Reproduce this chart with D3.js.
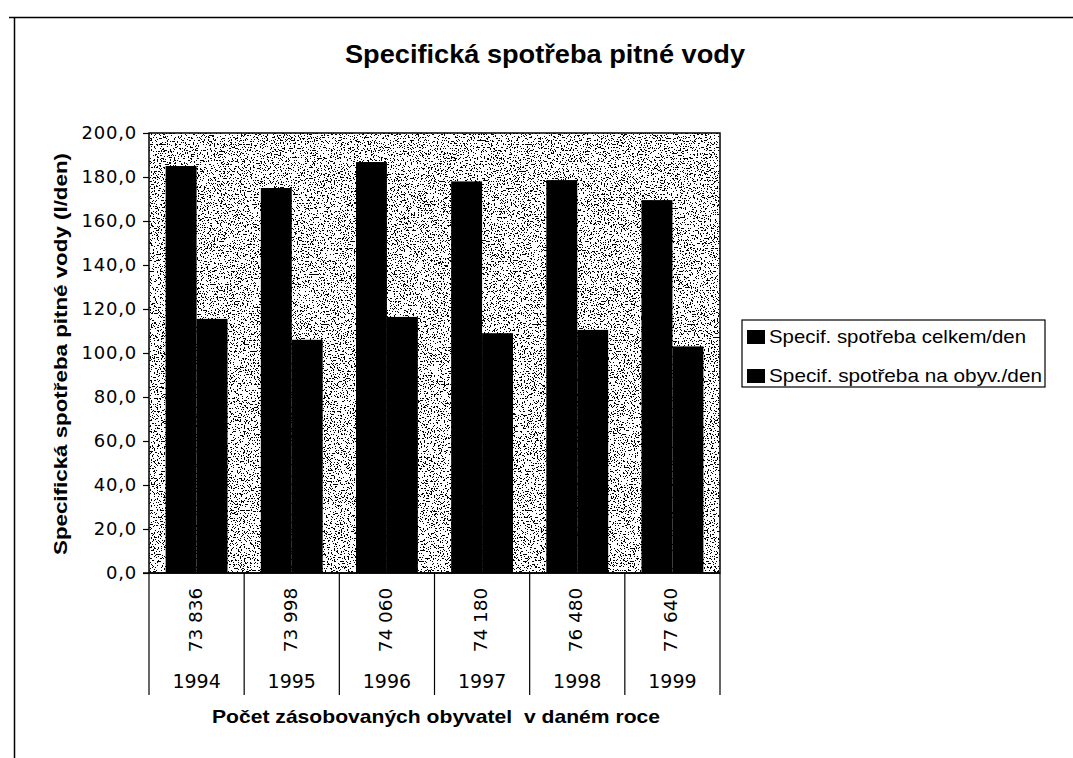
<!DOCTYPE html>
<html>
<head>
<meta charset="utf-8">
<script src="https://cdn.jsdelivr.net/npm/d3@7/dist/d3.min.js"></script>
<style>
    body { margin: 0; background: #fff; }
    text { font-family: "Liberation Sans", Arial, sans-serif; fill: #000; }
    .bold { font-weight: bold; }
    .num { font-family: "DejaVu Sans", sans-serif; }
</style>
</head>
<body>
<div id="chart"></div>
<script>
// Chart data
const years = ['1994', '1995', '1996', '1997', '1998', '1999'];
const population = ['73 836', '73 998', '74 060', '74 180', '76 480', '77 640'];
const totalPerDay = [185.0, 175.0, 186.8, 178.0, 178.6, 169.5];
const perCapitaPerDay = [115.5, 106.0, 116.4, 109.0, 110.5, 103.0];
const seriesNames = ['Specif. spotřeba celkem/den', 'Specif. spotřeba na obyv./den'];
const yTicks = [0, 20, 40, 60, 80, 100, 120, 140, 160, 180, 200];

function createChart(containerId) {
    const W = 1073, H = 758;
    const plot = { left: 149, right: 720, top: 133, bottom: 573 };

    d3.select(`#${containerId}`).selectAll('*').remove();

    const svg = d3.select(`#${containerId}`)
        .append('svg')
        .attr('width', W)
        .attr('height', H);

    // stipple texture for the plot background
    const defs = svg.append('defs');
    const f = defs.append('filter')
        .attr('id', 'stipple')
        .attr('x', 0).attr('y', 0).attr('width', 1).attr('height', 1)
        .attr('color-interpolation-filters', 'sRGB');
    f.append('feTurbulence')
        .attr('type', 'fractalNoise')
        .attr('baseFrequency', 0.7)
        .attr('numOctaves', 2)
        .attr('seed', 7);
    f.append('feColorMatrix')
        .attr('type', 'matrix')
        .attr('values', '1 0 0 0 0  1 0 0 0 0  1 0 0 0 0  0 0 0 0 1');
    const ct = f.append('feComponentTransfer');
    ['feFuncR', 'feFuncG', 'feFuncB'].forEach(n =>
        ct.append(n).attr('type', 'discrete').attr('tableValues', '0 0 0 0 0 0 0 0 1 1 1 1 1 1 1 1 1 1 1 1'));

    // outer frame (top and left edges visible)
    svg.append('line')
        .attr('x1', 9).attr('x2', W).attr('y1', 17.5).attr('y2', 17.5)
        .style('stroke', '#000').style('stroke-width', 1.5);
    svg.append('line')
        .attr('x1', 14.5).attr('x2', 14.5).attr('y1', 17).attr('y2', H)
        .style('stroke', '#000').style('stroke-width', 1.5);

    // Title
    svg.append('text')
        .attr('class', 'bold')
        .attr('x', 345)
        .attr('y', 63)
        .attr('textLength', 400)
        .attr('lengthAdjust', 'spacingAndGlyphs')
        .style('font-size', '25px')
        .text('Specifická spotřeba pitné vody');

    // Scales
    const x0 = d3.scaleBand()
        .domain(years)
        .range([plot.left, plot.right])
        .paddingInner(0.35)
        .paddingOuter(0.175);

    const x1 = d3.scaleBand()
        .domain([0, 1])
        .range([0, x0.bandwidth()]);

    const y = d3.scaleLinear()
        .domain([0, 200])
        .range([plot.bottom, plot.top]);

    // Plot background
    svg.append('rect')
        .attr('x', plot.left)
        .attr('y', plot.top)
        .attr('width', plot.right - plot.left)
        .attr('height', plot.bottom - plot.top)
        .attr('filter', 'url(#stipple)');

    // Bars
    const groups = svg.selectAll('.grp')
        .data(years)
        .enter()
        .append('g')
        .attr('class', 'grp')
        .attr('transform', d => `translate(${x0(d)},0)`);

    groups.append('rect')
        .attr('x', x1(0))
        .attr('y', (d, i) => y(totalPerDay[i]))
        .attr('width', x1.bandwidth())
        .attr('height', (d, i) => y(0) - y(totalPerDay[i]))
        .style('fill', '#000');

    groups.append('rect')
        .attr('x', x1(1))
        .attr('y', (d, i) => y(perCapitaPerDay[i]))
        .attr('width', x1.bandwidth())
        .attr('height', (d, i) => y(0) - y(perCapitaPerDay[i]))
        .style('fill', '#000');

    // Plot border
    svg.append('rect')
        .attr('x', plot.left)
        .attr('y', plot.top)
        .attr('width', plot.right - plot.left)
        .attr('height', plot.bottom - plot.top)
        .style('fill', 'none')
        .style('stroke', '#000')
        .style('stroke-width', 1.5);

    // Y axis
    const yAxis = svg.append('g')
        .attr('transform', `translate(${plot.left},0)`)
        .call(d3.axisLeft(y)
            .tickValues(yTicks)
            .tickSize(6)
            .tickPadding(6)
            .tickFormat(d => d3.format('.1f')(d).replace('.', ',')));
    yAxis.select('.domain').remove();
    yAxis.selectAll('line').style('stroke', '#000').style('stroke-width', 1.2);
    yAxis.selectAll('text')
        .attr('class', 'num')
        .style('font-size', '18px')
        .style('font-family', '"DejaVu Sans", sans-serif')
        .style('letter-spacing', '0.8px');

    svg.append('text')
        .attr('class', 'bold')
        .attr('transform', 'rotate(-90)')
        .attr('x', -555)
        .attr('y', 67)
        .attr('textLength', 402)
        .attr('lengthAdjust', 'spacingAndGlyphs')
        .style('font-size', '18px')
        .text('Specifická spotřeba pitné vody (l/den)');

    // X axis: category boundaries extending down
    const axisBottom = 695;
    const step = x0.step();
    const bounds = years.map((d, i) => plot.left + i * step).concat([plot.right]);
    svg.selectAll('.xsep')
        .data(bounds)
        .enter()
        .append('line')
        .attr('x1', d => d).attr('x2', d => d)
        .attr('y1', plot.bottom).attr('y2', axisBottom)
        .style('stroke', '#000')
        .style('stroke-width', 1.2);

    svg.append('line')
        .attr('x1', plot.left - 6).attr('x2', plot.right)
        .attr('y1', plot.bottom).attr('y2', plot.bottom)
        .style('stroke', '#000').style('stroke-width', 1.5);

    // population labels (rotated)
    svg.selectAll('.pop')
        .data(population)
        .enter()
        .append('text')
        .attr('class', 'num')
        .attr('transform', (d, i) => `translate(${plot.left + (i + 0.5) * step + 5},620) rotate(-90)`)
        .style('font-size', '18.5px')
        .style('text-anchor', 'middle')
        .text(d => d);

    // year labels
    svg.selectAll('.yr')
        .data(years)
        .enter()
        .append('text')
        .attr('class', 'num')
        .attr('x', (d, i) => plot.left + (i + 0.5) * step)
        .attr('y', 688)
        .style('font-size', '19px')
        .style('text-anchor', 'middle')
        .text(d => d);

    svg.append('text')
        .attr('class', 'bold')
        .attr('x', 212)
        .attr('y', 723)
        .attr('textLength', 448)
        .attr('lengthAdjust', 'spacingAndGlyphs')
        .style('font-size', '19px')
        .style('white-space', 'pre')
        .text('Počet zásobovaných obyvatel  v daném roce');

    // Legend
    const lg = svg.append('g').attr('transform', 'translate(742,320)');
    lg.append('rect')
        .attr('width', 303)
        .attr('height', 67)
        .style('fill', '#fff')
        .style('stroke', '#000')
        .style('stroke-width', 1.2);

    const legendWidths = [257, 273];
    const item = lg.selectAll('.item')
        .data(seriesNames)
        .enter()
        .append('g')
        .attr('transform', (d, i) => `translate(0,${i * 39})`);

    item.append('rect')
        .attr('x', 5).attr('y', 10)
        .attr('width', 18).attr('height', 14)
        .style('fill', '#000');

    item.append('text')
        .attr('x', 27)
        .attr('y', 23)
        .attr('textLength', (d, i) => legendWidths[i])
        .attr('lengthAdjust', 'spacingAndGlyphs')
        .style('font-size', '19px')
        .text(d => d);
}

createChart('chart');
</script>
</body>
</html>
